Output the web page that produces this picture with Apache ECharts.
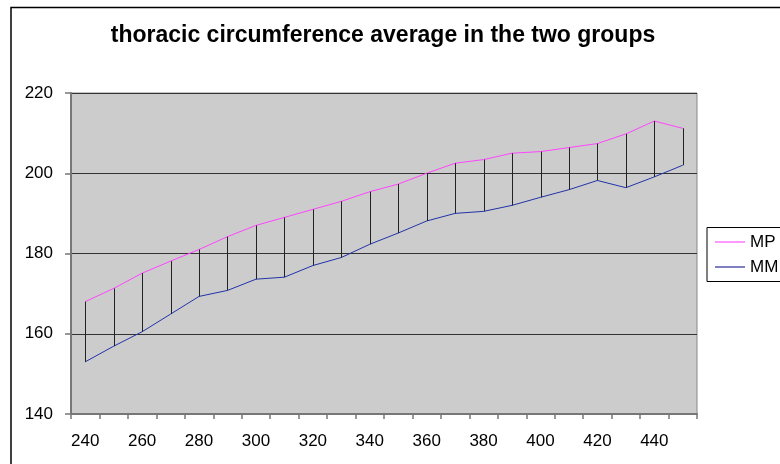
<!DOCTYPE html>
<html>
<head>
<meta charset="utf-8">
<script src="https://cdn.jsdelivr.net/npm/echarts@6/dist/echarts.min.js"></script>
<style>
html,body{margin:0;padding:0;background:#fff;}
#chart{width:780px;height:464px;}
</style>
</head>
<body>
<div id="chart"></div>
<script>
var categories = ['240','250','260','270','280','290','300','310','320','330','340','350','360','370','380','390','400','410','420','430','440','450'];
var mpValues = [168, 171.3, 175.1, 178.1, 181, 184.2, 187, 189, 191, 193, 195.4, 197.3, 200, 202.5, 203.4, 205, 205.4, 206.4, 207.4, 209.8, 213, 211.2];
var mmValues = [153, 156.9, 160.5, 164.9, 169.3, 170.8, 173.6, 174.1, 177, 179, 182.3, 185.1, 188.1, 190, 190.5, 192, 194, 195.9, 198.2, 196.4, 199.1, 202];
var yTicks = [140, 160, 180, 200, 220];
var titleText = 'thoracic circumference average in the two groups';

var hiLo = categories.map(function (c, i) { return [i, mpValues[i], mmValues[i]]; });
var FONT = 'Liberation Sans, Arial, sans-serif';

var chart = echarts.init(document.getElementById('chart'), null, {renderer: 'canvas'});
chart.setOption({
  animation: false,
  backgroundColor: '#ffffff',
  title: {
    text: titleText,
    left: 378, top: 19, textAlign: 'center',
    textStyle: {fontFamily: FONT, fontSize: 23, fontWeight: 'bold', color: '#000'}
  },
  graphic: [{
    type: 'rect', z: -10,
    shape: {x: 11, y: 7.5, width: 820, height: 520},
    style: {fill: 'none', stroke: '#000', lineWidth: 1.5}
  }],
  legend: {
    left: 707, top: 227.5,
    orient: 'vertical',
    itemWidth: 30, itemHeight: 1, itemGap: 8,
    icon: 'rect',
    padding: [6, 40, 6, 8],
    borderColor: '#000', borderWidth: 1,
    backgroundColor: '#fff',
    textStyle: {fontFamily: FONT, fontSize: 17, color: '#000'},
    data: [{name: 'MP', itemStyle: {color: '#ff33ff'}}, {name: 'MM', itemStyle: {color: '#000080'}}]
  },
  grid: {left: 71, right: 83, top: 93, bottom: 50, show: true, backgroundColor: '#cccccc', borderColor: '#888', borderWidth: 1},
  xAxis: {
    type: 'category', data: categories, boundaryGap: true,
    axisLine: {lineStyle: {color: '#777', width: 2}},
    axisTick: {show: true, interval: 0, length: 5, inside: false, lineStyle: {color: '#777', width: 1.5}},
    axisLabel: {interval: 1, margin: 19, fontFamily: FONT, fontSize: 17, color: '#000'},
    splitLine: {show: false}
  },
  yAxis: {
    type: 'value', min: yTicks[0], max: yTicks[yTicks.length - 1], interval: 20,
    axisLine: {show: true, lineStyle: {color: '#777', width: 2}},
    axisTick: {show: true, length: 6, lineStyle: {color: '#777', width: 1.5}},
    axisLabel: {margin: 18, fontFamily: FONT, fontSize: 17, color: '#000'},
    splitLine: {show: true, lineStyle: {color: '#333', width: 1}}
  },
  series: [
    {name: 'MP', type: 'line', data: mpValues, symbol: 'none', color: '#ff44ff', lineStyle: {color: '#ff44ff', width: 1}, z: 3},
    {name: 'MM', type: 'line', data: mmValues, symbol: 'none', color: '#1a2a9a', lineStyle: {color: '#2233aa', width: 1}, z: 3},
    {
      name: 'hilo', type: 'custom', data: hiLo, z: 4, silent: true,
      encode: {x: 0, y: [1, 2]},
      renderItem: function (params, api) {
        var p1 = api.coord([api.value(0), api.value(1)]);
        var p2 = api.coord([api.value(0), api.value(2)]);
        return {type: 'line', shape: {x1: Math.round(p1[0]) + 0.5, y1: p1[1], x2: Math.round(p2[0]) + 0.5, y2: p2[1]}, style: {stroke: '#222', lineWidth: 1}};
      }
    }
  ]
});
</script>
</body>
</html>
